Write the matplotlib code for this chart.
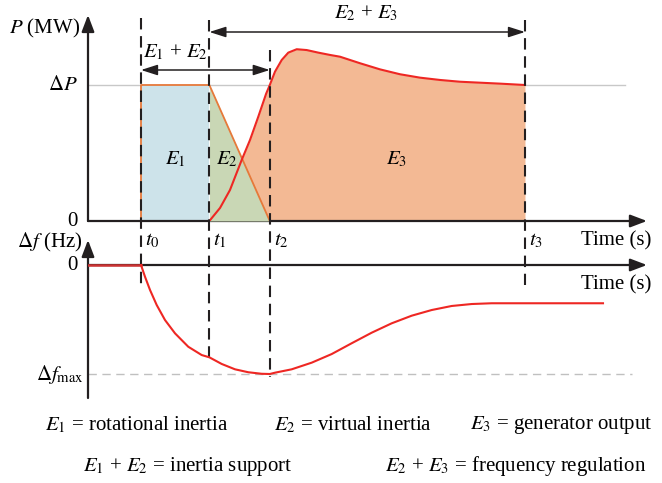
import matplotlib
matplotlib.use('Agg')
import matplotlib.pyplot as plt

plt.rcParams['font.family'] = ['Liberation Serif', 'DejaVu Serif']
plt.rcParams['mathtext.fontset'] = 'stix'

# time marks (s, schematic)
t_marks = [1.0, 2.29, 3.43, 8.245]
t_labels = ['$t_0$', '$t_1$', '$t_2$', '$t_3$']

# power, per unit of delta P
dP = 1.0
inertia_t = [1.0, 1.0, 2.29, 3.43]
inertia_p = [0.0, 1.0, 1.0, 0.0]

gen_t = [2.29, 2.491, 2.679, 2.900, 3.057, 3.213, 3.36, 3.43, 3.528, 3.655, 3.779,
         3.938, 4.126, 4.345, 4.566, 4.755, 5.132, 5.509, 5.887, 6.264, 6.642,
         7.019, 7.396, 7.774, 8.245]
gen_p = [0.0, 0.096, 0.228, 0.449, 0.596, 0.767, 0.935, 1.0, 1.098, 1.184, 1.238,
         1.263, 1.257, 1.238, 1.221, 1.208, 1.160, 1.115, 1.079, 1.054, 1.037,
         1.024, 1.017, 1.010, 1.0]

# frequency deviation, per unit of delta f max
freq_t = [0.0, 1.0, 1.075, 1.170, 1.296, 1.453, 1.642, 1.892, 2.145, 2.29, 2.523,
          2.774, 3.025, 3.277, 3.43, 3.528, 3.843, 4.221, 4.598, 4.975, 5.353,
          5.730, 6.108, 6.485, 6.862, 7.240, 7.617, 8.057, 9.717]
freq_f = [0.0, 0.0, -0.107, -0.229, -0.367, -0.505, -0.627, -0.750, -0.826, -0.847, -0.908,
          -0.957, -0.984, -0.998, -1.0, -0.988, -0.957, -0.896, -0.817, -0.718, -0.621,
          -0.535, -0.465, -0.413, -0.376, -0.358, -0.351, -0.351, -0.351]
df_max = -1.0

legend_row1 = ['$E_1$ = rotational inertia', '$E_2$ = virtual inertia',
               '$E_3$ = generator output']
legend_row2 = ['$E_1$ + $E_2$ = inertia support', '$E_2$ + $E_3$ = frequency regulation']

W, H = 662, 483
fig = plt.figure(figsize=(W / 100, H / 100), dpi=100)

px_t = 53.0    # pixels per time unit
px_p = 136.0   # pixels per delta P
px_f = 109.0   # pixels per delta f max
x0 = 88
ax_w = 560
fs = 15

ax_p = fig.add_axes([x0 / W, (H - 221) / H, ax_w / W, 206 / H])
ax_p.set_xlim(0, ax_w / px_t)
ax_p.set_ylim(0, 206 / px_p)
ax_f = fig.add_axes([x0 / W, (H - 398) / H, ax_w / W, 158 / H])
ax_f.set_xlim(0, ax_w / px_t)
ax_f.set_ylim(-133 / px_f, 25 / px_f)
for ax in (ax_p, ax_f):
    ax.axis('off')

k = '#231f20'
arrow = dict(arrowstyle='-|>,head_length=1.0,head_width=0.38', color=k, lw=1.6,
             shrinkA=0, shrinkB=0)
xmax = ax_w / px_t - 0.02

# top panel: axes
ax_p.annotate('', xy=(0, 206 / px_p), xytext=(0, 0), arrowprops=arrow, annotation_clip=False)
ax_p.annotate('', xy=(xmax, 0), xytext=(0, 0), arrowprops=arrow, annotation_clip=False)
ax_p.plot([0, 537 / px_t], [dP, dP], color='#c8c8c8', lw=1.0, zorder=1)

# fills
ax_p.fill_between(gen_t, 0, gen_p, color='#f3b994', lw=0, zorder=2)
ax_p.fill_between(inertia_t[:3], 0, inertia_p[:3], color='#cde3ea', lw=0, zorder=2)
ax_p.fill_between(inertia_t[2:], 0, inertia_p[2:], color='#c9d7b5', lw=0, zorder=3)
ax_p.plot(inertia_t, inertia_p, color='#e6793a', lw=1.3, zorder=4)
ax_p.plot(gen_t, gen_p, color='#ee2723', lw=1.5, zorder=5)

# dashed time markers (pixel extents converted to power units)
tops = [18, 20, 50, 20]
bottoms = [285, 362, 377, 285]
for t, y1, y2, lab in zip(t_marks, tops, bottoms, t_labels):
    ax_p.plot([t, t], [(221 - y1) / px_p, (221 - y2) / px_p], color=k, lw=1.5,
              dashes=(5.5, 3.2), clip_on=False, zorder=6)
    ax_p.text(t + 4 / px_t, -20 / px_p, lab, fontsize=fs, ha='left', va='center')

# double arrows
darrow = dict(arrowstyle='<|-|>,head_length=1.0,head_width=0.32', color=k, lw=1.1,
              shrinkA=0, shrinkB=0)
ax_p.annotate('', xy=(t_marks[2], 151 / px_p), xytext=(t_marks[0], 151 / px_p),
              arrowprops=darrow, annotation_clip=False)
ax_p.annotate('', xy=(t_marks[3], 189 / px_p), xytext=(t_marks[1], 189 / px_p),
              arrowprops=darrow, annotation_clip=False)
ax_p.text((t_marks[0] + t_marks[1]) / 2, 169 / px_p, '$E_1$ + $E_2$', fontsize=fs,
          ha='center', va='center')
ax_p.text(5.25, 208 / px_p, '$E_2$ + $E_3$', fontsize=fs, ha='center', va='center',
          clip_on=False)

ax_p.text(1.64, 0.45, '$E_1$', fontsize=fs, ha='center', va='center', zorder=7)
ax_p.text(2.62, 0.45, '$E_2$', fontsize=fs, ha='center', va='center', zorder=7)
ax_p.text(5.83, 0.45, '$E_3$', fontsize=fs, ha='center', va='center', zorder=7)

ax_p.text(-8 / px_t, 193 / px_p, '$P$ (MW)', fontsize=fs, ha='right', va='center')
ax_p.text(-10 / px_t, dP, r'$\Delta P$', fontsize=fs, ha='right', va='center')
ax_p.text(-10 / px_t, 0, '0', fontsize=fs, ha='right', va='center')
ax_p.text((651 - x0) / px_t, -20 / px_p, 'Time (s)', fontsize=fs, ha='right', va='center')

# bottom panel
ax_f.annotate('', xy=(0, 25 / px_f), xytext=(0, -133 / px_f), arrowprops=arrow,
              annotation_clip=False)
ax_f.annotate('', xy=(xmax, 0), xytext=(0, 0), arrowprops=arrow, annotation_clip=False)
ax_f.plot([0, 544 / px_t], [df_max, df_max], color='#c0c0c0', lw=1.0,
          dashes=(6, 4), zorder=1)
ax_f.plot(freq_t[:2], freq_f[:2], color='#cc3333', lw=1.8, zorder=4)
ax_f.plot(freq_t[1:], freq_f[1:], color='#ee2723', lw=1.5, zorder=4)

ax_f.text(-6 / px_t, 23 / px_f, r'$\Delta f$ (Hz)', fontsize=fs, ha='right', va='center')
ax_f.text(-10 / px_t, 0, '0', fontsize=fs, ha='right', va='center')
ax_f.text(-4 / px_t, df_max, r'$\Delta f_{\rm max}$', fontsize=fs, ha='right', va='center')
ax_f.text((651 - x0) / px_t, -20 / px_f, 'Time (s)', fontsize=fs, ha='right', va='center')

# definitions below the chart
for s, x in zip(legend_row1, [45, 274, 470]):
    fig.text(x / W, 1 - 425 / H, s, fontsize=fs, ha='left', va='center')
for s, x in zip(legend_row2, [83, 385]):
    fig.text(x / W, 1 - 466 / H, s, fontsize=fs, ha='left', va='center')

fig.savefig('out.png', dpi=100)
